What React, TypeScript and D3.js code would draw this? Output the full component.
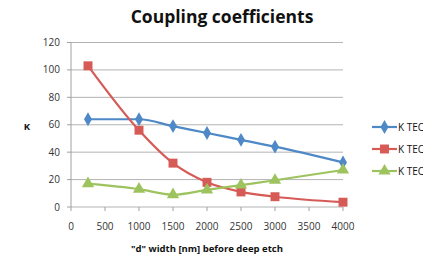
import React from "react";
import * as d3 from "d3";

const widths = [250, 1000, 1500, 2000, 2500, 3000, 4000];
const kTec1 = [64, 64, 59, 54, 49, 44, 32.5];
const kTec2 = [103, 56, 32, 18, 11, 7.5, 3.5];
const kTec3 = [17, 13, 9, 12.5, 16, 19.5, 27];
const seriesNames = ["K TEC1", "K TEC2", "K TEC3"];
const xTicks = [0, 500, 1000, 1500, 2000, 2500, 3000, 3500, 4000];
const yTicks = [0, 20, 40, 60, 80, 100, 120];

const colors = ["#4E88C7", "#D65A56", "#9DC35E"];
const font = "'Open Sans', 'Liberation Sans', sans-serif";

const App = () => {
  const W = 423;
  const H = 257;
  const x = d3.scaleLinear().domain([0, 4000]).range([71, 343]);
  const y = d3.scaleLinear().domain([0, 120]).range([207, 42.5]);

  // smoothed lines like the spreadsheet, without overshoot
  const line = d3
    .line<[number, number]>()
    .x(d => x(d[0]))
    .y(d => y(d[1]))
    .curve(d3.curveMonotoneX);

  const all = [kTec1, kTec2, kTec3];
  const shapes = [d3.symbolDiamond, d3.symbolSquare, d3.symbolTriangle];
  const sizes = [55, 80, 65];
  const legendY = [127, 149, 171];

  return (
    <svg width={W} height={H} style={{ position: "absolute", left: 0, top: 0 }}>
      <rect width={W} height={H} fill="#fff" />
      <text x={222} y={23} textAnchor="middle" fontFamily={font} fontWeight="bold" fontSize={17.5} fill="#111">
        Coupling coefficients
      </text>
      {yTicks.map(t => (
        <g key={t}>
          <line x1={x(0)} x2={x(4000)} y1={y(t)} y2={y(t)} stroke="#b3b3b3" strokeWidth={1} />
          <line x1={x(0) - 4} x2={x(0)} y1={y(t)} y2={y(t)} stroke="#a0a0a0" />
          <text x={60} y={y(t) + 3.5} textAnchor="end" fontFamily={font} fontSize={10} fill="#333">
            {t}
          </text>
        </g>
      ))}
      <line x1={x(0)} x2={x(0)} y1={y(120)} y2={y(0)} stroke="#a0a0a0" />
      {xTicks.map(t => (
        <g key={t}>
          <line x1={x(t)} x2={x(t)} y1={y(0)} y2={y(0) + 4} stroke="#a0a0a0" />
          <text x={x(t)} y={230} textAnchor="middle" fontFamily={font} fontSize={10} fill="#333">
            {t}
          </text>
        </g>
      ))}
      <text x={27} y={130} textAnchor="middle" fontFamily={font} fontWeight="bold" fontSize={9.5} fill="#111">
        K
      </text>
      <text x={207} y={252} textAnchor="middle" fontFamily={font} fontWeight="bold" fontSize={9.5} fill="#111">
        "d" width [nm] before deep etch
      </text>
      {all.map((vals, i) => {
        const pts = widths.map((w, j) => [w, vals[j]] as [number, number]);
        const sym = d3.symbol().type(shapes[i]).size(sizes[i])();
        return (
          <g key={i}>
            <path d={line(pts) || ""} fill="none" stroke={colors[i]} strokeWidth={2.2} />
            {pts.map((p, j) => (
              <path key={j} d={sym || ""} transform={`translate(${x(p[0])},${y(p[1])})`} fill={colors[i]} />
            ))}
            <line x1={372} x2={397} y1={legendY[i]} y2={legendY[i]} stroke={colors[i]} strokeWidth={2.2} />
            <path d={sym || ""} transform={`translate(384.5,${legendY[i]})`} fill={colors[i]} />
            <text x={398} y={legendY[i] + 3.5} fontFamily={font} fontSize={10} fill="#111">
              {seriesNames[i]}
            </text>
          </g>
        );
      })}
    </svg>
  );
};

export default App;
